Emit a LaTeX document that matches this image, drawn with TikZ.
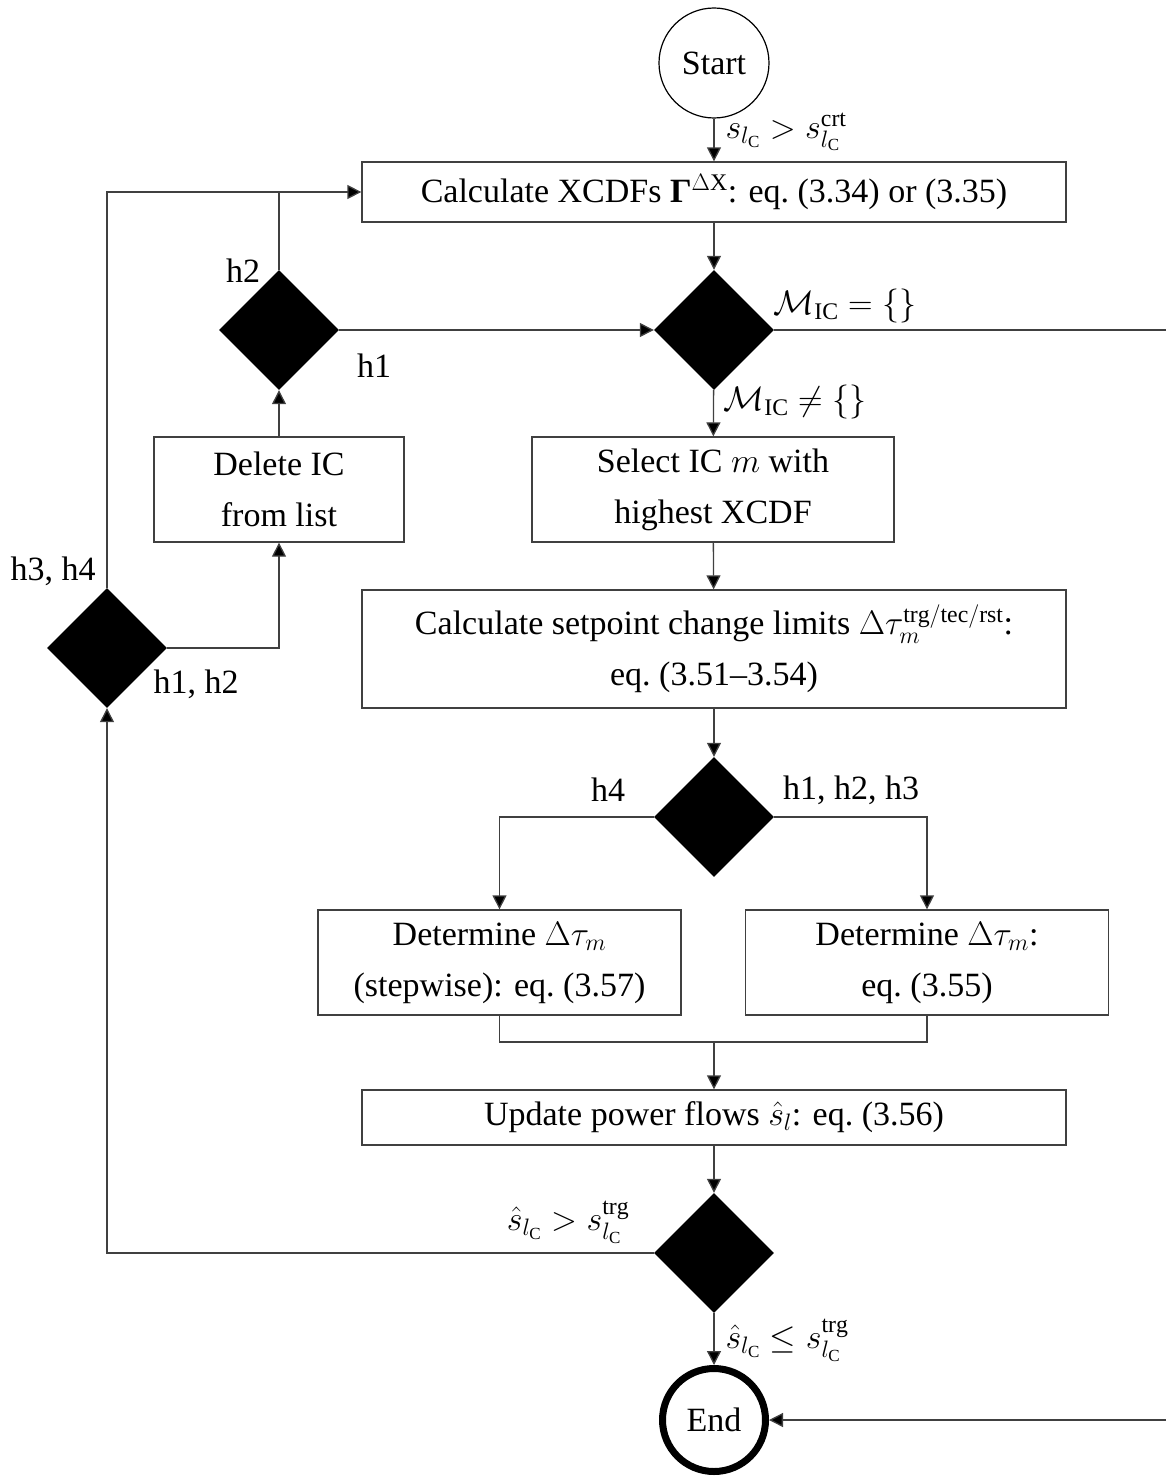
\RequirePackage{fix-cm}
\documentclass[tikz,border=0pt]{standalone}
\usepackage{amsmath}
\usepackage{fontspec}
\setmainfont{Liberation Serif}
\usetikzlibrary{arrows.meta,shapes.geometric}

\begin{document}
\begin{tikzpicture}[x=1pt,y=-1pt,
  font=\fontsize{34}{51}\selectfont,
  line/.style={draw=black!75, line width=1.3pt},
  arr/.style={line, -{Triangle[width=14pt,length=14pt,fill=black]}},
  box/.style={draw=black!75, line width=1.3pt, rectangle, inner sep=0pt, align=center},
  dec/.style={diamond, fill=black, minimum width=120pt, minimum height=120pt, inner sep=0pt},
  term/.style={circle, draw=black, inner sep=0pt}]
\useasboundingbox (0,0) rectangle (1165,1477);

% terminals
\node[term, line width=1.2pt, minimum size=110pt] (start) at (714,63) {Start};
\node[term, line width=7pt, minimum size=103pt] (end) at (714,1420) {End};

% process boxes
\node[box, minimum width=704pt, minimum height=60pt] (b1) at (714,192)
  {Calculate XCDFs {\bfseries Γ}$^{\Delta\mathrm{X}}$: eq.~(3.34) or (3.35)};
\node[box, minimum width=362pt, minimum height=105pt] (b2) at (713,489.5)
  {Select IC $m$ with\\highest XCDF};
\node[box, minimum width=704pt, minimum height=118pt] (b3) at (714,649)
  {Calculate setpoint change limits $\Delta\tau_m^{\mathrm{trg/tec/rst}}$:\\eq.~(3.51--3.54)};
\node[box, minimum width=363pt, minimum height=105pt] (b4) at (499.5,962.5)
  {Determine $\Delta\tau_m$\\(stepwise): eq.~(3.57)};
\node[box, minimum width=363pt, minimum height=105pt] (b5) at (927,962.5)
  {Determine $\Delta\tau_m$:\\eq.~(3.55)};
\node[box, minimum width=704pt, minimum height=55pt] (b6) at (714,1117.5)
  {Update power flows $\hat{s}_l$: eq.~(3.56)};
\node[box, minimum width=250pt, minimum height=105pt] (b7) at (279,489.5)
  {Delete IC\\from list};

% decisions
\node[dec] (d1) at (714,330) {};
\node[dec] (d2) at (714,817) {};
\node[dec] (d3) at (714,1253) {};
\node[dec] (d4) at (107,648) {};
\node[dec] (d5) at (279,330) {};

% helper points
\coordinate (join) at (714,1042);
\coordinate (rt) at (1167,330);

% main column
\draw[arr] (start) -- (b1);
\draw[arr] (b1) -- (d1);
\draw[arr] (d1) -- (b2);
\draw[arr] (b2) -- (b3);
\draw[arr] (b3) -- (d2);
\draw[arr] (d2.west) -| (b4.north);
\draw[arr] (d2.east) -| (b5.north);
\draw[line] (b4.south) |- (join) -| (b5.south);
\draw[arr] (join) -- (b6);
\draw[arr] (b6) -- (d3);
\draw[arr] (d3) -- (end);

% loops
\draw[arr] (d3.west) -| (d4.south);
\draw[arr] (d4.north) |- (b1.west);
\draw[line] (d5.north) -- (d5.north |- b1.west);
\draw[arr] (d4.east) -| (b7.south);
\draw[arr] (b7) -- (d5);
\draw[arr] (d5) -- (d1);
\draw[arr] (d1.east) -- (rt) |- (end.east);

% labels
\node[anchor=west] (l1) at (722,132) {$s_{l_\mathrm{C}} > s_{l_\mathrm{C}}^{\mathrm{crt}}$};
\node[anchor=west] (l2) at (770,306) {$\mathcal{M}_{\mathrm{IC}} = \{\}$};
\node[anchor=west] (l3) at (720,402) {$\mathcal{M}_{\mathrm{IC}} \neq \{\}$};
\node (l4) at (243,271) {h2};
\node (l5) at (374,366) {h1};
\node (l6) at (53,571) {h3, h4};
\node (l7) at (196,684) {h1, h2};
\node (l8) at (608,790) {h4};
\node (l9) at (851,790) {h1, h2, h3};
\node (l10) at (568,1222) {$\hat{s}_{l_\mathrm{C}} > s_{l_\mathrm{C}}^{\mathrm{trg}}$};
\node[anchor=west] (l11) at (722,1340) {$\hat{s}_{l_\mathrm{C}} \leq s_{l_\mathrm{C}}^{\mathrm{trg}}$};
\end{tikzpicture}
\end{document}
